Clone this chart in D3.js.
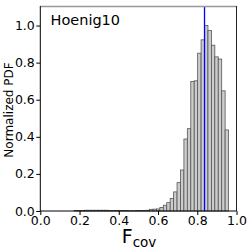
<!DOCTYPE html>
<html><head><meta charset="utf-8">
<script src="https://cdn.jsdelivr.net/npm/d3@7"></script>
<style>body{margin:0;background:#fff}svg{display:block;font-family:"DejaVu Sans",sans-serif}</style>
</head><body><div id="chart"></div>
<script>
// Histogram bins: 50 bins, start and width
const binStart = 0.0845;
const binWidth = 0.0175;
const binHeights = [
  0,0,0,0,0, 0.003,0.003,0.003,0.004,0.004,
  0.004,0.004,0.004,0.004,0.004, 0.003,0.003,0.003,0.003,0.003,
  0.003,0.002,0.002,0.003,0.003, 0.003,0.004,0.009,0.010,0.011,
  0.019,0.031,0.045,0.068,0.103, 0.153,0.221,0.388,0.444,0.698,
  0.702,0.851,0.923,1.0,0.973, 0.894,0.831,0.819,0.648,0.437
];
const markerValue = 0.837;
const xTicks = [0.0,0.2,0.4,0.6,0.8,1.0];
const yTicks = [0.0,0.2,0.4,0.6,0.8,1.0];
const label = "Hoenig10";

const W=249,H=249, L=40.3, R=236.5, T=7, B=211;
const svg=d3.select("#chart").append("svg").attr("width",W).attr("height",H);
const x=d3.scaleLinear().domain([0,1]).range([L,R]);
const y=d3.scaleLinear().domain([0,1.1]).range([B,T]);

const bins = binHeights.map((h,i)=>({x0:binStart+i*binWidth,x1:binStart+(i+1)*binWidth,h}));
svg.append("g").selectAll("rect").data(bins.filter(d=>d.h>0)).join("rect")
  .attr("x",d=>x(d.x0)).attr("width",d=>x(d.x1)-x(d.x0))
  .attr("y",d=>y(d.h)).attr("height",d=>B-y(d.h))
  .attr("fill","#cccccc").attr("stroke","#555").attr("stroke-width",0.8);

svg.append("line").attr("x1",x(markerValue)).attr("x2",x(markerValue))
  .attr("y1",T).attr("y2",B).attr("stroke","#0000ff").attr("stroke-width",1.3);

// frame
svg.append("line").attr("x1",L).attr("x2",R).attr("y1",T-0.5).attr("y2",T-0.5).attr("stroke","#999").attr("stroke-width",1.6);
svg.append("line").attr("x1",R).attr("x2",R).attr("y1",T-1).attr("y2",B).attr("stroke","#222").attr("stroke-width",1);

const fmt=d3.format(".1f");
const xa=svg.append("g").attr("transform",`translate(0,${B})`)
  .call(d3.axisBottom(x).tickValues(xTicks).tickFormat(fmt).tickSize(4).tickPadding(1));
const ya=svg.append("g").attr("transform",`translate(${L},0)`)
  .call(d3.axisLeft(y).tickValues(yTicks).tickFormat(fmt).tickSize(4).tickPadding(1.5));
[xa,ya].forEach(a=>{a.selectAll("text").attr("font-size",12.5).attr("font-family","DejaVu Sans").attr("fill","#000");
  a.selectAll("line").attr("stroke","#000");a.select(".domain").attr("stroke","#000");});
ya.select(".domain").attr("d",`M0,${B}V${T-1}`);
xa.select(".domain").attr("d",`M${L},0H${R}`);

svg.append("text").attr("x",50.5).attr("y",25).attr("font-size",14.5).text(label);
svg.append("text").attr("transform",`translate(12.5,${(B+T)/2+1}) rotate(-90)`)
  .attr("text-anchor","middle").attr("font-size",12).text("Normalized PDF");
const xl=svg.append("text").attr("x",139).attr("y",243).attr("text-anchor","middle").attr("font-size",19);
xl.append("tspan").text("F");
xl.append("tspan").attr("font-size",13.5).attr("dy",3.5).text("cov");
</script></body></html>
